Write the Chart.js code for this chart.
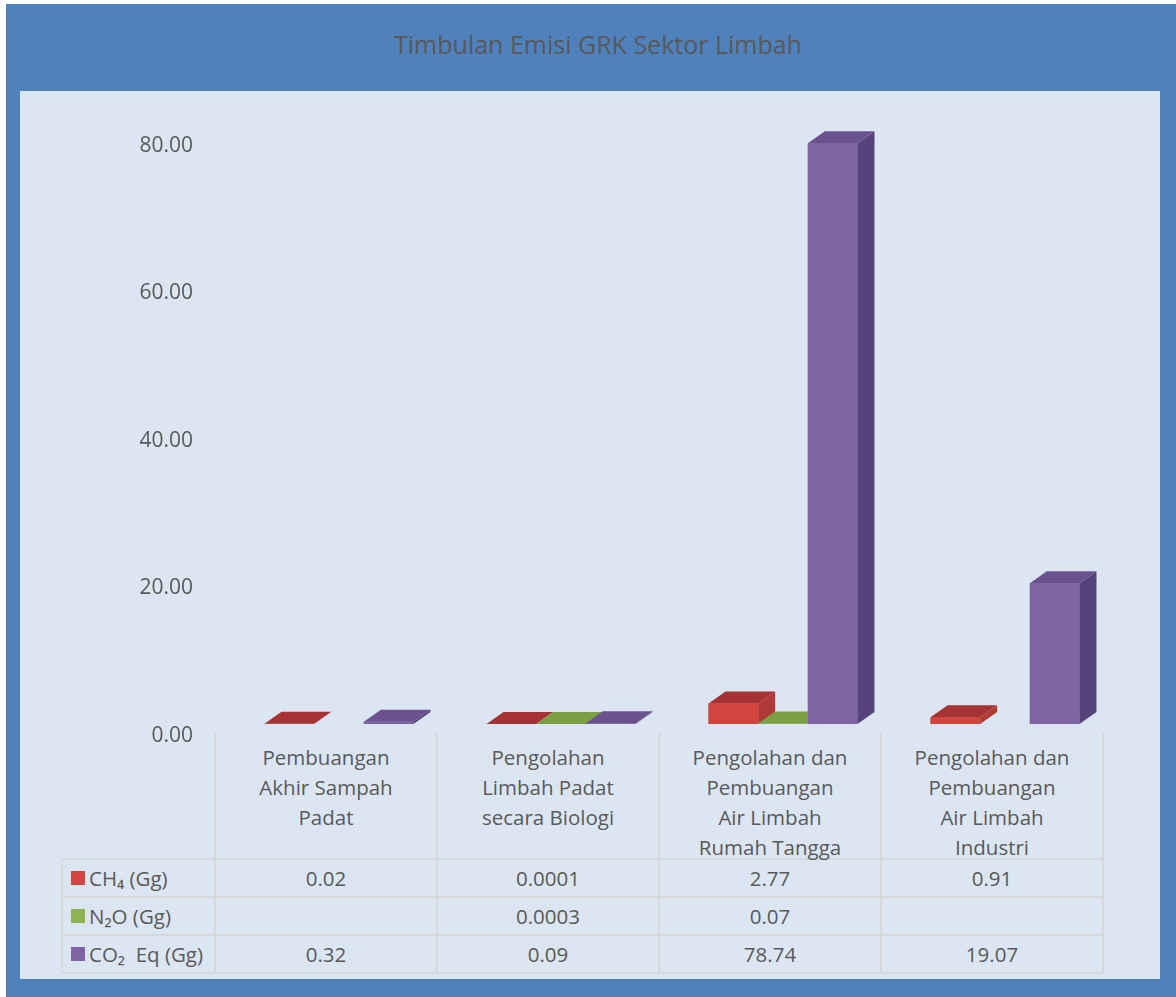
<!DOCTYPE html>
<html>
<head>
<meta charset="utf-8">
<title>Timbulan Emisi GRK Sektor Limbah</title>
<script src="https://cdn.jsdelivr.net/npm/chart.js@4"></script>
<style>
  body { margin: 0; background: #ffffff; font-family: "Open Sans", sans-serif; color: #595959; }
  #frame { position: absolute; left: 6px; top: 4px; width: 1170px; height: 993px; background: #4f81bd; }
  #panel { position: absolute; left: 20px; top: 91px; width: 1140px; height: 888px; background: #dce6f2; }
  #title { position: absolute; left: 0; top: 27px; width: 1196px; text-align: center; font-size: 25px; color: #595959; }
  #chart { position: absolute; left: 0; top: 0; }
  .line { position: absolute; background: #d6d8dc; }
  .txt { position: absolute; text-align: center; font-size: 20.5px; line-height: 30px; color: #595959; white-space: pre; }
  .key { position: absolute; width: 14px; height: 14px; }
</style>
</head>
<body>
<div id="frame"></div>
<div id="panel"></div>
<div id="title">Timbulan Emisi GRK Sektor Limbah</div>
<div id="table"></div>
<canvas id="chart" width="1176" height="997"></canvas>
<script>
const categories = [
  ["Pembuangan", "Akhir Sampah", "Padat"],
  ["Pengolahan", "Limbah Padat", "secara Biologi"],
  ["Pengolahan dan", "Pembuangan", "Air Limbah", "Rumah Tangga"],
  ["Pengolahan dan", "Pembuangan", "Air Limbah", "Industri"],
];
const seriesNames = ["CH\u2084 (Gg)", "N\u2082O (Gg)", "CO\u2082  Eq (Gg)"];
const ch4 = [0.02, 0.0001, 2.77, 0.91];
const n2o = [null, 0.0003, 0.07, null];
const co2eq = [0.32, 0.09, 78.74, 19.07];
const yTicks = [0, 20, 40, 60, 80];

// front / top / side shades for the 3D look
const shades = [
  { front: "#d2453f", top: "#a63333", side: "#b23a36" },
  { front: "#8fb350", top: "#7aa043", side: "#6f9140" },
  { front: "#7f63a3", top: "#6a528f", side: "#57437b" },
];
const depthX = 17;
const depthY = 12;

// data table under the plot
const tbl = document.getElementById("table");
function line(x, y, w, h) {
  const d = document.createElement("div");
  d.className = "line";
  Object.assign(d.style, { left: x + "px", top: y + "px", width: w + "px", height: h + "px" });
  tbl.appendChild(d);
}
const colX = [215, 437, 659, 881, 1103];
const rowY = [859, 897, 935, 973];
rowY.forEach((y) => line(62, y - 1, 1043, 2));
line(61, 859, 2, 114);
colX.forEach((x) => line(x - 1, 733, 2, 240));

categories.forEach((lines, i) => {
  const d = document.createElement("div");
  d.className = "txt";
  Object.assign(d.style, { left: colX[i] + "px", top: "742px", width: "222px" });
  d.textContent = lines.join("\n");
  tbl.appendChild(d);
});

[ch4, n2o, co2eq].forEach((vals, r) => {
  const k = document.createElement("div");
  k.className = "key";
  Object.assign(k.style, { left: "71px", top: rowY[r] + 12 + "px", background: shades[r].front });
  tbl.appendChild(k);
  const name = document.createElement("div");
  name.className = "txt";
  Object.assign(name.style, { left: "89px", top: rowY[r] + 4 + "px", textAlign: "left" });
  name.textContent = seriesNames[r];
  tbl.appendChild(name);
  vals.forEach((v, c) => {
    const d = document.createElement("div");
    d.className = "txt";
    Object.assign(d.style, { left: colX[c] + "px", top: rowY[r] + 4 + "px", width: "222px" });
    d.textContent = v === null ? "" : String(v);
    tbl.appendChild(d);
  });
});

// top and side faces drawn over each bar, left to right
const bar3d = {
  id: "bar3d",
  afterDatasetsDraw(chart) {
    const ctx = chart.ctx;
    ctx.save();
    for (let c = 0; c < categories.length; c++) {
      chart.data.datasets.forEach((ds, s) => {
        if (ds.data[c] === null) return;
        const bar = chart.getDatasetMeta(s).data[c];
        const l = bar.x - bar.width / 2;
        const r = bar.x + bar.width / 2;
        const top = bar.y;
        const base = bar.base;
        ctx.fillStyle = shades[s].front;
        ctx.fillRect(l, top, r - l, base - top);
        ctx.fillStyle = shades[s].side;
        ctx.beginPath();
        ctx.moveTo(r, top);
        ctx.lineTo(r + depthX, top - depthY);
        ctx.lineTo(r + depthX, base - depthY);
        ctx.lineTo(r, base);
        ctx.closePath();
        ctx.fill();
        ctx.fillStyle = shades[s].top;
        ctx.beginPath();
        ctx.moveTo(l, top);
        ctx.lineTo(r, top);
        ctx.lineTo(r + depthX, top - depthY);
        ctx.lineTo(l + depthX, top - depthY);
        ctx.closePath();
        ctx.fill();
      });
    }
    ctx.restore();
  },
};

new Chart(document.getElementById("chart"), {
  type: "bar",
  data: {
    labels: categories,
    datasets: [
      { label: seriesNames[0], data: ch4, backgroundColor: shades[0].front },
      { label: seriesNames[1], data: n2o, backgroundColor: shades[1].front },
      { label: seriesNames[2], data: co2eq, backgroundColor: shades[2].front },
    ],
  },
  options: {
    responsive: false,
    animation: false,
    layout: { padding: { left: 0, right: 60, top: 134, bottom: 273 } },
    datasets: { bar: { categoryPercentage: 0.671, barPercentage: 1 } },
    plugins: { legend: { display: false }, tooltip: { enabled: false }, title: { display: false } },
    scales: {
      x: { display: false },
      y: {
        min: 0,
        max: 80,
        afterBuildTicks: (scale) => {
          scale.ticks = yTicks.map((v) => ({ value: v }));
        },
        afterFit: (scale) => {
          scale.width = 228;
        },
        grid: { display: false, drawTicks: false },
        border: { display: false },
        ticks: {
          padding: 35,
          labelOffset: 12,
          color: "#595959",
          font: { family: "Open Sans", size: 21 },
          callback: (v) => Number(v).toFixed(2),
        },
      },
    },
  },
  plugins: [bar3d],
});
</script>
</body>
</html>
